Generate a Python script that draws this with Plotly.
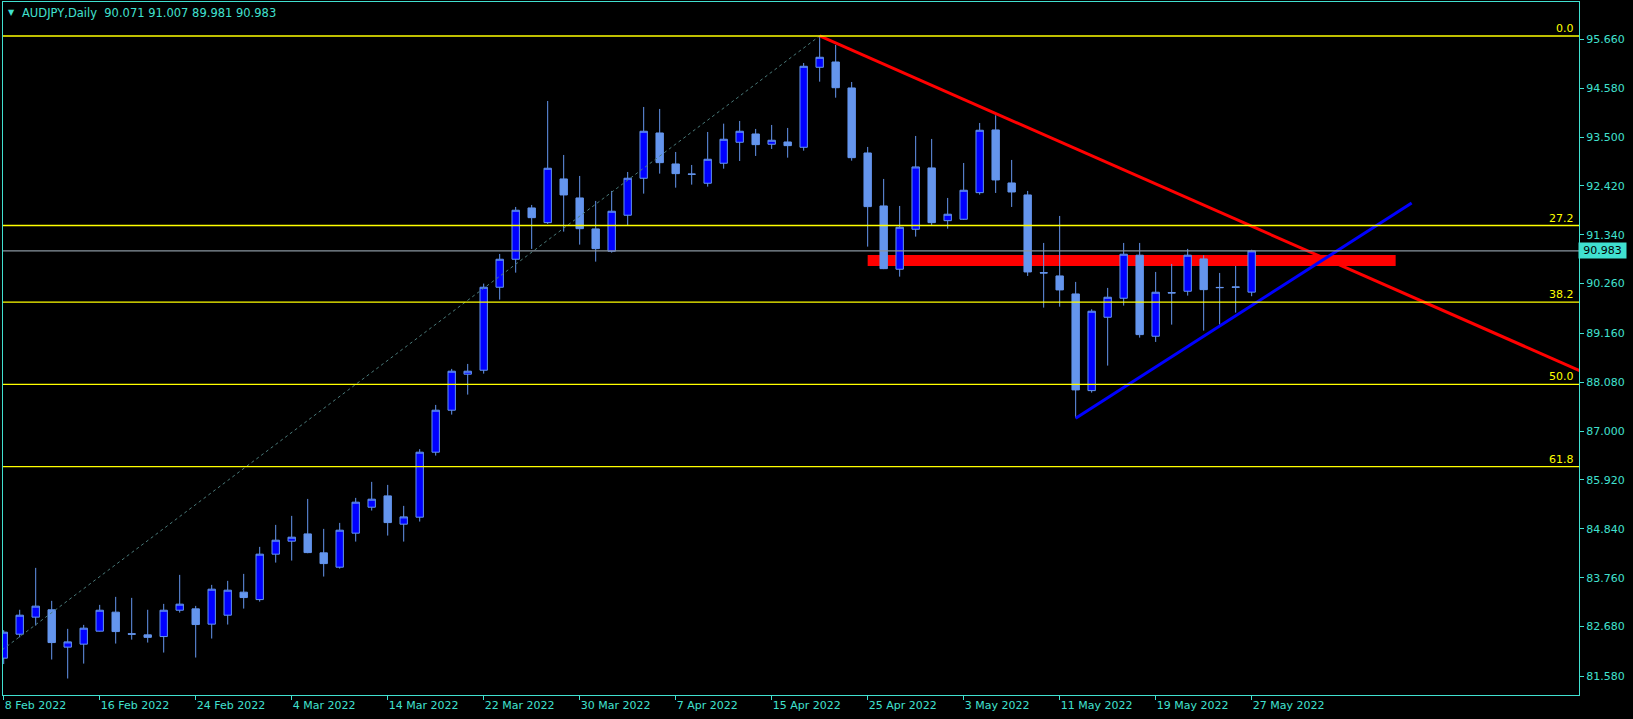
import plotly.graph_objects as go
import pandas as pd

# ---------------- data ----------------
dates = [d.strftime("%d %b %Y") for d in pd.bdate_range("2022-02-08", periods=79)]

opens = [81.98, 82.51, 82.887, 83.05, 82.224, 82.29, 82.577, 82.997, 82.52, 82.495,
         82.458, 83.04, 83.07, 82.732, 82.93, 83.439, 83.275, 84.279, 84.566, 84.727,
         84.308, 83.991, 84.743, 85.317, 85.567, 84.942, 85.096, 86.533, 87.461, 88.257,
         88.345, 90.179, 90.798, 91.932, 91.607, 92.573, 92.153, 91.468, 90.975, 91.771,
         92.588, 93.589, 92.904, 92.68, 92.478, 92.92, 93.384, 93.567, 93.34, 93.39,
         93.273, 95.041, 95.158, 94.584, 93.147, 91.976, 90.577, 91.461, 92.816, 91.651,
         91.682, 92.27, 93.656, 92.484, 92.219, 90.50, 90.429, 90.031, 87.894, 89.516,
         89.936, 90.887, 89.096, 90.06, 90.091, 90.805, 90.175, 90.185, 90.071]
highs = [82.60, 83.05, 83.976, 83.247, 82.628, 82.716, 83.158, 83.335, 83.313, 83.05,
         83.18, 83.821, 83.136, 83.60, 83.689, 83.843, 84.44, 84.926, 85.125, 85.50,
         84.838, 84.97, 85.523, 85.877, 85.81, 85.346, 86.60, 87.578, 88.374, 88.484,
         90.259, 90.915, 91.954, 91.998, 94.296, 93.103, 92.639, 92.087, 92.308, 92.727,
         94.164, 94.12, 93.169, 92.882, 93.611, 93.795, 93.854, 93.678, 93.766, 93.70,
         95.136, 95.733, 95.534, 94.716, 93.28, 92.573, 91.976, 93.523, 93.457, 92.153,
         92.926, 93.81, 93.98, 92.993, 92.308, 91.158, 91.755, 90.297, 89.693, 90.164,
         91.158, 91.158, 90.517, 90.694, 91.026, 90.887, 90.495, 90.65, 91.007]
lows = [81.85, 82.44, 82.70, 81.95, 81.53, 81.86, 82.57, 82.303, 82.39, 82.325,
        82.104, 82.988, 81.994, 82.414, 82.723, 83.076, 83.23, 84.093, 84.137, 84.30,
        83.784, 83.96, 84.557, 85.243, 84.69, 84.557, 85.00, 86.458, 87.364, 87.806,
        88.27, 89.905, 90.502, 91.026, 91.578, 91.408, 91.121, 90.745, 90.944, 91.541,
        92.248, 92.69, 92.38, 92.447, 92.403, 92.80, 92.97, 93.081, 93.236, 93.043,
        93.198, 94.723, 94.369, 92.977, 91.077, 90.58, 90.414, 91.298, 91.55, 91.474,
        91.67, 92.226, 92.263, 91.954, 90.429, 89.729, 89.75, 87.284, 87.85, 88.447,
        89.773, 89.066, 88.97, 89.353, 89.994, 89.22, 89.353, 89.618, 89.981]
closes = [82.555, 82.93, 83.13, 82.325, 82.34, 82.643, 83.04, 82.568, 82.51, 82.44,
          83.04, 83.174, 82.723, 83.505, 83.483, 83.32, 84.279, 84.588, 84.654, 84.314,
          84.071, 84.809, 85.428, 85.494, 84.977, 85.103, 86.533, 87.461, 88.323, 88.323,
          90.179, 90.798, 91.881, 91.717, 92.809, 92.219, 91.474, 91.032, 91.859, 92.588,
          93.627, 92.933, 92.69, 92.677, 93.008, 93.45, 93.627, 93.331, 93.428, 93.309,
          95.063, 95.262, 94.59, 93.043, 91.961, 90.59, 91.505, 92.838, 91.607, 91.793,
          92.323, 93.649, 92.551, 92.285, 90.517, 90.495, 90.12, 87.91, 89.649, 89.958,
          90.909, 89.132, 90.069, 90.053, 90.887, 90.126, 90.171, 90.18, 90.983]

x_tick_idx = [0, 6, 12, 18, 24, 30, 36, 42, 48, 54, 60, 66, 72, 78]
x_tick_text = ["8 Feb 2022", "16 Feb 2022", "24 Feb 2022", "4 Mar 2022", "14 Mar 2022",
               "22 Mar 2022", "30 Mar 2022", "7 Apr 2022", "15 Apr 2022", "25 Apr 2022",
               "3 May 2022", "11 May 2022", "19 May 2022", "27 May 2022"]
y_ticks = [95.66, 94.58, 93.50, 92.42, 91.34, 90.26, 89.16, 88.08, 87.00, 85.92,
           84.84, 83.76, 82.68, 81.58]

# Fibonacci retracement anchors (bar index, price) and levels
fib_low = (-7, 80.33)
fib_high = (51, 95.733)
fib_levels = [0.0, 27.2, 38.2, 50.0, 61.8]

# trendlines (bar index, price)
red_line = [(51, 95.733), (62, 94.02)]
blue_line = [(67, 87.284), (88, 92.04)]
# resistance zone
zone_x = [54, 87]
zone_y = [90.65, 90.893]

last_price = 90.983
title_text = "AUDJPY,Daily  90.071 91.007 89.981 90.983"

# ---------------- styling ----------------
CYAN = "#40E0D0"
FONT = "DejaVu Sans"
X_RANGE = [-0.044, 98.46]
Y_RANGE = [81.166, 96.484]

idx = list(range(len(opens)))

fig = go.Figure()

fig.add_trace(go.Candlestick(
    x=idx, open=opens, high=highs, low=lows, close=closes,
    increasing=dict(fillcolor="#0000FF", line=dict(color="#6495ED", width=1)),
    decreasing=dict(fillcolor="#6495ED", line=dict(color="#6495ED", width=1)),
    whiskerwidth=0, hoverinfo="skip", showlegend=False,
))

# Fib dotted trend line
fig.add_trace(go.Scatter(
    x=[fib_low[0], fib_high[0]], y=[fib_low[1], fib_high[1]], mode="lines",
    line=dict(color="#4A7A7A", width=1, dash="dot"), hoverinfo="skip", showlegend=False))

# red ray extended to right edge
(rx0, ry0), (rx1, ry1) = red_line
rslope = (ry1 - ry0) / (rx1 - rx0)
fig.add_trace(go.Scatter(
    x=[rx0, X_RANGE[1] + 1], y=[ry0, ry0 + rslope * (X_RANGE[1] + 1 - rx0)], mode="lines",
    line=dict(color="#FF0000", width=3), hoverinfo="skip", showlegend=False))

# blue trendline
fig.add_trace(go.Scatter(
    x=[p[0] for p in blue_line], y=[p[1] for p in blue_line], mode="lines",
    line=dict(color="#0000FF", width=3), hoverinfo="skip", showlegend=False))

shapes = []
annotations = []

# zone rectangle
shapes.append(dict(type="rect", xref="x", yref="y", x0=zone_x[0], x1=zone_x[1],
                   y0=zone_y[0], y1=zone_y[1], fillcolor="#FF0000",
                   line=dict(width=0), layer="below"))

# fib horizontal lines + labels
span = fib_high[1] - fib_low[1]
for lv in fib_levels:
    yv = fib_high[1] - span * lv / 100.0
    shapes.append(dict(type="line", xref="paper", yref="y", x0=0, x1=1, y0=yv, y1=yv,
                       line=dict(color="#FFFF00", width=1.3), layer="above"))
    annotations.append(dict(xref="paper", yref="y", x=1, y=yv, xshift=-4,
                            xanchor="right", yanchor="bottom", text=f"{lv:.1f}",
                            showarrow=False, font=dict(color="#FFFF00", size=11, family=FONT),
                            borderpad=0))

# current price line
shapes.append(dict(type="line", xref="paper", yref="y", x0=0, x1=1,
                   y0=last_price, y1=last_price, line=dict(color="#8A96A0", width=1.2),
                   layer="above"))

# price label box on axis
annotations.append(dict(xref="paper", yref="y", x=1, y=last_price, xshift=-1,
                        xanchor="left", yanchor="middle", text=f"{last_price:.3f}",
                        showarrow=False, bgcolor=CYAN, font=dict(color="#000000", size=11, family=FONT),
                        borderpad=1, width=45, align="center"))

# title
plot_w = 1633 - 3 - 54
plot_h = 719 - 2 - 24
annotations.append(dict(xref="paper", yref="paper", x=(20 - 3) / plot_w, y=1 - (13 - 2) / plot_h,
                        xanchor="left", yanchor="middle", text=title_text, showarrow=False,
                        font=dict(color=CYAN, size=11.5, family=FONT)))
annotations.append(dict(xref="paper", yref="paper", x=(11 - 3) / plot_w, y=1 - (12 - 2) / plot_h,
                        xanchor="center", yanchor="middle", text="▼", showarrow=False,
                        font=dict(color=CYAN, size=8, family=FONT)))

fig.update_layout(
    width=1633, height=719,
    margin=dict(l=3, r=54, t=2, b=24, pad=0),
    paper_bgcolor="#000000", plot_bgcolor="#000000",
    showlegend=False, hovermode=False,
    boxgap=0.34,
    shapes=shapes, annotations=annotations,
    font=dict(family=FONT, size=11, color=CYAN),
)
fig.update_xaxes(
    range=X_RANGE, rangeslider=dict(visible=False),
    tickmode="array", tickvals=x_tick_idx, ticktext=x_tick_text,
    ticks="outside", ticklen=4, tickcolor=CYAN, tickwidth=1,
    ticklabelposition="outside right",
    tickfont=dict(color=CYAN, size=11, family=FONT),
    showgrid=False, zeroline=False,
    showline=True, linecolor=CYAN, linewidth=1, mirror=True,
)
fig.update_yaxes(
    side="right", range=Y_RANGE,
    tickmode="array", tickvals=y_ticks, ticktext=[f"{v:.3f}" for v in y_ticks],
    ticks="outside", ticklen=4, tickcolor=CYAN, tickwidth=1,
    tickfont=dict(color=CYAN, size=11, family=FONT),
    showgrid=False, zeroline=False,
    showline=True, linecolor=CYAN, linewidth=1, mirror=True,
)

fig.write_html(
    "out.html",
    config={"displayModeBar": False},
    post_script="document.body.style.margin='0';document.body.style.background='#000';",
)
